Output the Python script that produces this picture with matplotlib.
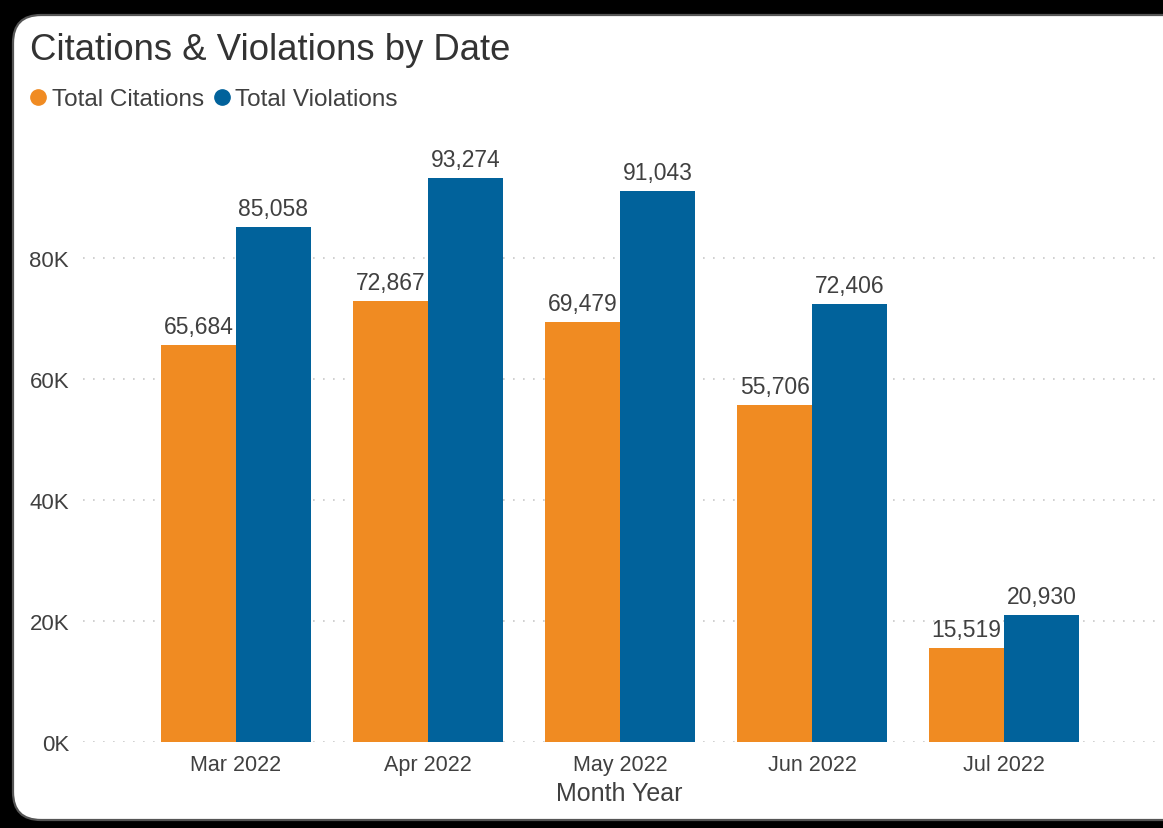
#!/usr/bin/env python

import numpy as np
import matplotlib.pyplot as plt
from matplotlib.patches import Rectangle, FancyBboxPatch
from matplotlib.lines import Line2D

# Data
months = ['Mar 2022', 'Apr 2022', 'May 2022', 'Jun 2022', 'Jul 2022']
citations = [65684, 72867, 69479, 55706, 15519]
violations = [85058, 93274, 91043, 72406, 20930]
yticks = [0, 20000, 40000, 60000, 80000]

orange = '#F08B22'
blue = '#01629B'
txt = '#404040'

W, H = 1163, 829
plt.rcParams['font.family'] = ['Liberation Sans', 'DejaVu Sans']

fig = plt.figure(figsize=(W / 100, H / 100), dpi=100)

def fx(px):
    return px / W

def fy(py):
    return 1 - py / H

# frame around the card
fig.patches.append(Rectangle((0, fy(10)), 1, fy(0) - fy(10), transform=fig.transFigure,
                             facecolor='black', edgecolor='none', zorder=-3))
fig.patches.append(Rectangle((0, 0), fx(12), 1, transform=fig.transFigure,
                             facecolor='black', edgecolor='none', zorder=-3))
fig.patches.append(Rectangle((0, 0), 1, 1 - fy(824), transform=fig.transFigure,
                             facecolor='black', edgecolor='none', zorder=-3))
card = FancyBboxPatch((13, 829 - 821), 1185, 805, boxstyle='round,pad=0,rounding_size=28',
                      transform=None, facecolor='white', edgecolor='#555555', lw=1.6, zorder=-2)
fig.patches.append(card)

ax = fig.add_axes([fx(83), fy(743), fx(1155 - 83), fy(150) - fy(743)])
ax.set_facecolor('none')

x = np.arange(len(months))
w = 0.39
b1 = ax.bar(x - w / 2, citations, w, color=orange, zorder=3)
b2 = ax.bar(x + w / 2, violations, w, color=blue, zorder=3)

lbl = {'fontsize': 16.5, 'color': txt}
ax.bar_label(b1, labels=['{:,}'.format(v) for v in citations], padding=5, **lbl)
ax.bar_label(b2, labels=['{:,}'.format(v) for v in violations], padding=5, **lbl)

ax.set_xlim(-0.797, 4.786)
ax.set_ylim(0, 98000)
ax.set_yticks(yticks)
ax.set_yticklabels(['{}K'.format(v // 1000) for v in yticks])
ax.set_xticks(x)
ax.set_xticklabels(months)
ax.tick_params(axis='both', length=0, labelcolor=txt)
ax.tick_params(axis='y', pad=10, labelsize=16)
ax.tick_params(axis='x', pad=9, labelsize=15.5)
ax.grid(axis='y', color='#C8C8C8', linestyle=(0, (1, 5)), linewidth=1.2, zorder=0)
for s in ax.spines.values():
    s.set_visible(False)
ax.set_xlabel('Month Year', fontsize=18, color=txt, labelpad=4)

fig.text(fx(30), fy(50), 'Citations & Violations by Date', fontsize=26.3, color='#333333',
         va='center', ha='left')

handles = [Line2D([], [], marker='o', ls='none', color=orange, markersize=11),
           Line2D([], [], marker='o', ls='none', color=blue, markersize=11)]
fig.legend(handles, ['Total Citations', 'Total Violations'], loc='center left',
           bbox_to_anchor=(fx(31), fy(100)), ncol=2, frameon=False, fontsize=17.5,
           handlelength=0.6, handletextpad=0.25, columnspacing=0.45, labelcolor=txt,
           borderpad=0, borderaxespad=0)

plt.savefig('out.png', dpi=100)
